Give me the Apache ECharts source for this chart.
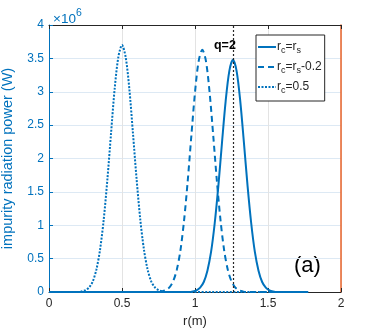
<!DOCTYPE html>
<html><head><meta charset="utf-8">
<script src="https://cdn.jsdelivr.net/npm/echarts@6/dist/echarts.min.js"></script>
<style>html,body{margin:0;padding:0;background:#fff}#c{width:374px;height:332px}</style>
</head><body><div id="c"></div>
<script>
// Values (power in units of 10^6 W)
const xTicks = [0, 0.5, 1, 1.5, 2];
const yTicks = [0, 0.5, 1, 1.5, 2, 2.5, 3, 3.5, 4];
const qLineR = 1.262;
const qLabel = 'q=2';
const seriesNames = ['rc=rs', 'rc=rs-0.2', 'rc=0.5'];

const rSolid = [0, 0.96, 0.985, 1.01, 1.035, 1.06, 1.085, 1.11, 1.135, 1.16, 1.185, 1.21, 1.235, 1.26, 1.285, 1.31, 1.335, 1.36, 1.385, 1.41, 1.435, 1.46, 1.485, 1.51, 1.535, 1.56, 1.775];
const pSolid = [0, 0, 0.009, 0.026, 0.066, 0.15, 0.32, 0.60, 1.03, 1.59, 2.24, 2.86, 3.31, 3.48, 3.31, 2.86, 2.24, 1.59, 1.03, 0.60, 0.32, 0.15, 0.066, 0.026, 0.009, 0, 0];

const rDashed = [0, 0.75, 0.775, 0.8, 0.825, 0.85, 0.875, 0.9, 0.925, 0.95, 0.975, 1.0, 1.025, 1.05, 1.075, 1.1, 1.125, 1.15, 1.175, 1.2, 1.225, 1.25, 1.275, 1.3, 1.325, 1.35, 1.775];
const pDashed = [0, 0, 0.01, 0.028, 0.07, 0.16, 0.33, 0.62, 1.07, 1.66, 2.34, 2.99, 3.46, 3.63, 3.46, 2.99, 2.34, 1.66, 1.07, 0.62, 0.33, 0.16, 0.07, 0.028, 0.01, 0, 0];

const rDotted = [0, 0.2, 0.225, 0.25, 0.275, 0.3, 0.325, 0.35, 0.375, 0.4, 0.425, 0.45, 0.475, 0.5, 0.525, 0.55, 0.575, 0.6, 0.625, 0.65, 0.675, 0.7, 0.725, 0.75, 0.775, 0.8, 1.775];
const pDotted = [0, 0, 0.01, 0.028, 0.07, 0.16, 0.34, 0.64, 1.09, 1.69, 2.38, 3.05, 3.52, 3.70, 3.52, 3.05, 2.38, 1.69, 1.09, 0.64, 0.34, 0.16, 0.07, 0.028, 0.01, 0, 0];

const zip = (a, b) => a.map((v, i) => [v, b[i]]);
const BLUE = '#0072BD';
const FONT = 'Liberation Sans';

const chart = echarts.init(document.getElementById('c'), null, {renderer: 'canvas'});
const subRich = {
  n: {fontFamily: FONT, fontSize: 12, color: '#262626'},
  s: {fontFamily: FONT, fontSize: 9, color: '#262626', padding: [7, 0, 0, 0]}
};
const legendLabels = {
  'rc=rs': '{n|r}{s|c}{n|=r}{s|s}',
  'rc=rs-0.2': '{n|r}{s|c}{n|=r}{s|s}{n|-0.2}',
  'rc=0.5': '{n|r}{s|c}{n|=0.5}'
};
chart.setOption({
  animation: false,
  textStyle: {fontFamily: FONT},
  title: {
    text: '{a|×10}{b|6}', left: 48, top: 1,
    textStyle: {fontWeight: 'normal', rich: {
      a: {fontFamily: FONT, fontSize: 13.5, fontWeight: 'normal', color: BLUE, padding: [6, 0, 0, 0]},
      b: {fontFamily: FONT, fontSize: 10.5, fontWeight: 'normal', color: BLUE, padding: [0, 0, 5, 0]}
    }}
  },
  grid: {left: 49, right: 33, top: 25, bottom: 40, containLabel: false, outerBoundsMode: 'none'},
  legend: {
    orient: 'vertical', left: 256, top: 35,
    data: seriesNames,
    itemWidth: 18, itemHeight: 10, itemGap: 6,
    padding: [6, 3, 6, 1],
    borderColor: '#262626', borderWidth: 1, backgroundColor: '#fff',
    formatter: n => legendLabels[n],
    itemStyle: {color: 'rgba(0,0,0,0)', borderWidth: 0, opacity: 0},
    textStyle: {rich: subRich, padding: [0, 0, 0, -4]}
  },
  xAxis: [{
    type: 'value', min: 0, max: 2, interval: 0.5,
    name: 'r(m)', nameLocation: 'middle', nameGap: 23,
    nameTextStyle: {fontFamily: FONT, fontSize: 13, color: '#262626'},
    axisLine: {onZero: false, lineStyle: {color: '#262626', width: 1}},
    axisTick: {inside: true, length: 4, lineStyle: {color: '#262626'}},
    axisLabel: {fontFamily: FONT, fontSize: 12, color: '#262626', margin: 6},
    splitLine: {show: true, lineStyle: {color: '#e3e3e3', width: 1}}
  }, {
    type: 'value', min: 0, max: 2, interval: 0.5, position: 'top',
    axisLine: {show: true, onZero: false, lineStyle: {color: '#262626', width: 1}},
    axisTick: {show: true, inside: true, length: 4, lineStyle: {color: '#262626'}},
    axisLabel: {show: false}, splitLine: {show: false}
  }],
  yAxis: [{
    type: 'value', min: 0, max: 4, interval: 0.5, position: 'left',
    name: 'impurity radiation power (W)', nameLocation: 'middle', nameGap: 34,
    nameTextStyle: {fontFamily: FONT, fontSize: 14.5, color: BLUE},
    axisLine: {show: true, onZero: false, lineStyle: {color: BLUE, width: 1}},
    axisTick: {show: true, inside: true, length: 4, lineStyle: {color: BLUE}},
    axisLabel: {fontFamily: FONT, fontSize: 12, color: BLUE, margin: 5},
    splitLine: {show: true, lineStyle: {color: '#dde9f4', width: 1}}
  }, {
    type: 'value', min: 0, max: 4, position: 'right',
    axisLine: {show: true, onZero: false, lineStyle: {color: '#E8632A', width: 1.5}},
    axisTick: {show: false}, axisLabel: {show: false}, splitLine: {show: false}
  }],
  graphic: [{
    type: 'text', left: 294, top: 255,
    style: {text: '(a)', fontFamily: FONT, fontSize: 22, fill: '#000'}
  }],
  series: [{
    name: seriesNames[0], type: 'line', data: zip(rSolid, pSolid),
    showSymbol: false, symbol: 'none', smooth: 0.3,
    lineStyle: {color: BLUE, width: 2, type: 'solid'}, itemStyle: {color: BLUE},
    z: 3,
    markLine: {
      silent: true, symbol: 'none',
      lineStyle: {color: '#262626', type: [2, 2], width: 1.2},
      label: {show: false},
      data: [{xAxis: qLineR}]
    },
    markPoint: {
      symbol: 'circle', symbolSize: 0,
      label: {show: true, formatter: qLabel, fontFamily: FONT, fontSize: 12.5, fontWeight: 'bold', color: '#000', position: 'inside'},
      data: [{coord: [1.205, 3.69], value: qLabel}]
    }
  }, {
    name: seriesNames[1], type: 'line', data: zip(rDashed, pDashed),
    showSymbol: false, symbol: 'none', smooth: 0.3,
    lineStyle: {color: BLUE, width: 2, type: [6, 4]}, itemStyle: {color: BLUE},
    z: 3
  }, {
    name: seriesNames[2], type: 'line', data: zip(rDotted, pDotted),
    showSymbol: false, symbol: 'none', smooth: 0.3,
    lineStyle: {color: BLUE, width: 2, type: [2, 1.5]}, itemStyle: {color: BLUE},
    z: 3
  }]
});
</script>
</body></html>
